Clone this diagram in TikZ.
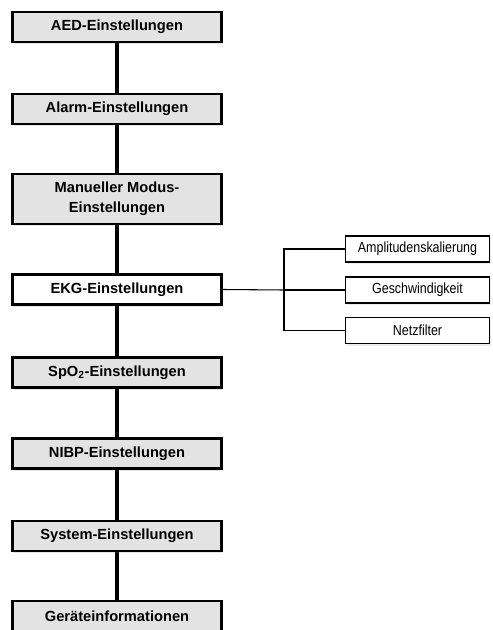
\documentclass[tikz,border=0pt]{standalone}
\usepackage{fontspec}
\setmainfont{Liberation Sans}
\newfontfamily\narrowsans[FakeStretch=0.85]{Liberation Sans}
\usetikzlibrary{shadows, backgrounds}

\tikzset{
    menubox/.style={draw, line width=2pt, fill=black!11,
        minimum width=157pt, minimum height=22.5pt, inner sep=1pt,
        align=center, font=\fontsize{11pt}{15pt}\selectfont\bfseries,
        drop shadow={shadow xshift=1.2pt, shadow yshift=-1.8pt, opacity=0.2}},
    subbox/.style={draw, line width=0.9pt, fill=white,
        minimum width=108.5pt, minimum height=19.5pt, inner sep=1pt,
        font=\fontsize{11pt}{13pt}\narrowsans,
        drop shadow={shadow xshift=1pt, shadow yshift=-1.5pt, opacity=0.15}},
    menuline/.style={line width=3pt},
    subline/.style={line width=0.8pt}
}

\begin{document}
\begin{tikzpicture}[x=0.75pt, y=-0.75pt]
    \useasboundingbox (0,0) rectangle (492,630);

    % main menu
    \node[menubox] (aed) at (117,27) {AED-Einstellungen};
    \node[menubox] (alarm) at (117,109) {Alarm-Einstellungen};
    \node[menubox, minimum height=37.5pt] (manuell) at (117,199) {Manueller Modus-\\Einstellungen};
    \node[menubox, fill=white] (ekg) at (117,289.5) {EKG-Einstellungen};
    \node[menubox] (spo) at (117,372.5) {SpO\textsubscript{2}-Einstellungen};
    \node[menubox] (nibp) at (117,453.5) {NIBP-Einstellungen};
    \node[menubox] (system) at (117,536) {System-Einstellungen};
    \node[menubox] (geraet) at (117,616) {Geräteinformationen};

    % EKG submenu
    \node[subbox] (amp) at (417.5,249) {Amplitudenskalierung};
    \node[subbox] (speed) at (417.5,290) {Geschwindigkeit};
    \node[subbox] (filter) at (417.5,330.5) {Netzfilter};
    \coordinate (split) at (284,290);

    \begin{scope}[on background layer]
    \draw[menuline] (aed) -- (alarm);
    \draw[menuline] (alarm) -- (manuell);
    \draw[menuline] (manuell) -- (ekg);
    \draw[menuline] (ekg) -- (spo);
    \draw[menuline] (spo) -- (nibp);
    \draw[menuline] (nibp) -- (system);
    \draw[menuline] (system) -- (geraet);
    \end{scope}

    \draw[subline] (ekg.east) -- (split);
    \draw[subline] (split) |- (amp.west);
    \draw[subline] (split) -- (speed.west);
    \draw[subline] (split) |- (filter.west);
\end{tikzpicture}
\end{document}
